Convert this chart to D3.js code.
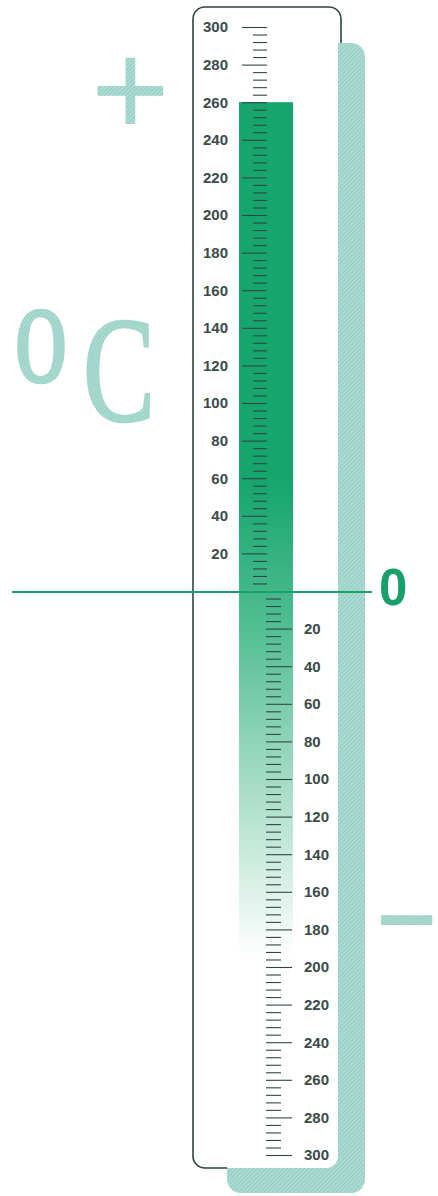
<!DOCTYPE html>
<html>
<head>
<meta charset="utf-8">
<script src="https://cdn.jsdelivr.net/npm/d3@7"></script>
<style>
  body { margin: 0; background: #fff; }
  svg { display: block; }
</style>
</head>
<body>
<div id="chart"></div>
<script>
// scale limits and labelled ticks
const domainTop = 300;
const domainBottom = -300;
const upperLabels = [20, 40, 60, 80, 100, 120, 140, 160, 180, 200, 220, 240, 260, 280, 300];
const lowerLabels = [20, 40, 60, 80, 100, 120, 140, 160, 180, 200, 220, 240, 260, 280, 300];
const minorStep = 4;
// mercury column: solid top and where the fade runs out
const barTop = 260;
const fadeStart = 60;
const barBottom = -195;

const W = 438, H = 1196;
const svg = d3.select('#chart').append('svg')
  .attr('width', W)
  .attr('height', H);

const defs = svg.append('defs');
const hatch = defs.append('pattern')
  .attr('id', 'hatch')
  .attr('width', 3).attr('height', 3)
  .attr('patternUnits', 'userSpaceOnUse')
  .attr('patternTransform', 'rotate(45)');
hatch.append('rect').attr('width', 3).attr('height', 3).attr('fill', '#acdcd2');
hatch.append('line').attr('x1', 0).attr('y1', 0).attr('x2', 0).attr('y2', 3)
  .attr('stroke', '#86c5b8').attr('stroke-width', 1.4);

const y = d3.scaleLinear()
  .domain([domainTop, domainBottom])
  .range([27, 1155]);

const tubeX = 193, tubeY = 7, tubeW = 148, tubeH = 1161;
const shadow = {x: 227, y: 43, w: 138, h: 1150};
const axisX = 267;

// decorative signs
svg.append('text')
  .text('+')
  .attr('x', 130.5).attr('y', 136)
  .attr('text-anchor', 'middle')
  .attr('font-family', 'Liberation Sans, Arial, sans-serif')
  .attr('font-size', 135)
  .attr('fill', 'url(#hatch)');

const unit = svg.append('text')
  .attr('font-family', 'Liberation Serif, Times New Roman, serif')
  .attr('fill', 'url(#hatch)')
  .attr('stroke', 'url(#hatch)')
  .attr('stroke-width', 2.5)
  .attr('font-size', 150);
unit.append('tspan').text('o')
  .attr('x', 14 / 0.72).attr('y', 382);
unit.append('tspan').text('C')
  .attr('x', 83 / 0.72).attr('y', 421);
unit.attr('transform', 'scale(0.72,1)');

svg.append('text')
  .text('\u2212')
  .attr('transform', 'translate(376,965) scale(0.78,1)')
  .attr('font-family', 'Liberation Sans, Arial, sans-serif')
  .attr('font-size', 135)
  .attr('fill', 'url(#hatch)');

// shadow behind the tube
svg.append('rect')
  .attr('x', shadow.x).attr('y', shadow.y)
  .attr('width', shadow.w).attr('height', shadow.h)
  .attr('rx', 14)
  .attr('fill', 'url(#hatch)');

// tube body
svg.append('rect')
  .attr('x', tubeX).attr('y', tubeY)
  .attr('width', shadow.x + 111 - tubeX).attr('height', tubeH)
  .attr('rx', 12)
  .attr('fill', '#fff');

// outline, hidden where the shadow lies over it
defs.append('clipPath').attr('id', 'noShadow')
  .append('path')
  .attr('clip-rule', 'evenodd')
  .attr('d', `M0,0H${W}V${H}H0Z M${shadow.x},${shadow.y}h${shadow.w}v${shadow.h}h${-shadow.w}Z`);
svg.append('rect')
  .attr('x', tubeX).attr('y', tubeY)
  .attr('width', tubeW).attr('height', tubeH)
  .attr('rx', 12)
  .attr('fill', 'none')
  .attr('stroke', '#2c4242')
  .attr('stroke-width', 1.6)
  .attr('clip-path', 'url(#noShadow)');

// mercury column
const grad = defs.append('linearGradient')
  .attr('id', 'fade')
  .attr('gradientUnits', 'userSpaceOnUse')
  .attr('x1', 0).attr('x2', 0)
  .attr('y1', y(fadeStart)).attr('y2', y(barBottom));
grad.append('stop').attr('offset', 0).attr('stop-color', '#15a56d');
grad.append('stop').attr('offset', 0.3).attr('stop-color', '#4fbd92');
grad.append('stop').attr('offset', 0.65).attr('stop-color', '#a9ddc8');
grad.append('stop').attr('offset', 1).attr('stop-color', '#ffffff');

const bar = svg.append('g');
bar.append('rect')
  .attr('x', 239).attr('width', 54)
  .attr('y', y(barTop))
  .attr('height', y(barBottom) - y(barTop))
  .attr('fill', 'url(#fade)');

// ticks
const minorUp = d3.range(minorStep, domainTop, minorStep).filter(v => v % 20 !== 0);
const minorDown = d3.range(0, -domainBottom, minorStep).filter(v => v % 20 !== 0);
const tickColor = '#2f4646';
const labelFont = 'Liberation Sans, Arial, sans-serif';

function styleAxis(g) {
  g.select('.domain').remove();
  g.selectAll('line').attr('stroke', tickColor).attr('stroke-width', 1.1);
  g.selectAll('text')
    .attr('fill', '#3b4b4b')
    .attr('font-family', labelFont)
    .attr('font-weight', 'bold')
    .attr('font-size', 15);
}

svg.append('g')
  .attr('transform', `translate(${axisX},0)`)
  .call(d3.axisLeft(y).tickValues(minorUp).tickSize(14).tickFormat(''))
  .call(styleAxis);
svg.append('g')
  .attr('transform', `translate(${axisX},0)`)
  .call(d3.axisLeft(y).tickValues(upperLabels).tickSize(25).tickPadding(14))
  .call(styleAxis);

const yLow = d3.scaleLinear().domain([0, 300]).range([y(0), y(-300)]);
svg.append('g')
  .attr('transform', `translate(${axisX - 1},0)`)
  .call(d3.axisRight(yLow).tickValues(minorDown).tickSize(15).tickFormat(''))
  .call(styleAxis);
svg.append('g')
  .attr('transform', `translate(${axisX - 1},0)`)
  .call(d3.axisRight(yLow).tickValues(lowerLabels).tickSize(26).tickPadding(12))
  .call(styleAxis);

// zero line
svg.append('line')
  .attr('x1', 12).attr('x2', 372)
  .attr('y1', y(0) + 1).attr('y2', y(0) + 1)
  .attr('stroke', '#1aa06a')
  .attr('stroke-width', 2);
svg.append('text')
  .text('0')
  .attr('x', 379).attr('y', 605)
  .attr('font-family', labelFont)
  .attr('font-weight', 'bold')
  .attr('font-size', 51)
  .attr('fill', '#17a06a');
</script>
</body>
</html>
